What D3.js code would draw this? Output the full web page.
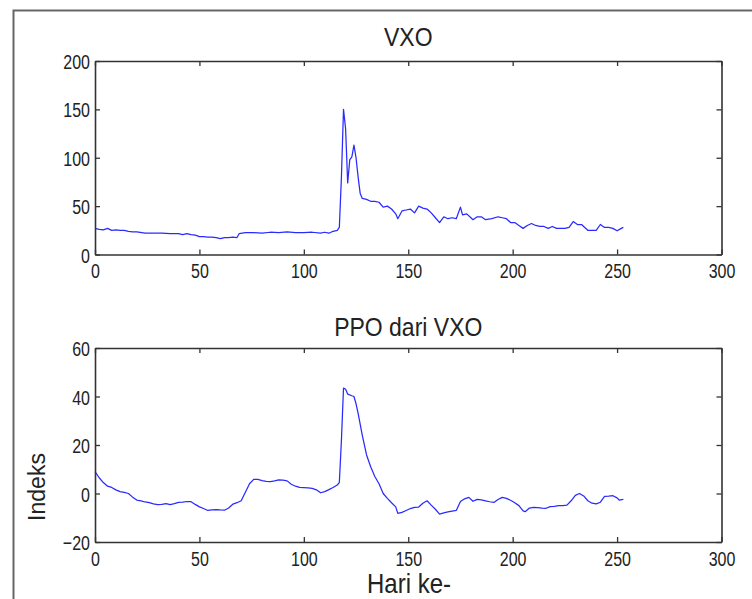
<!DOCTYPE html>
<html>
<head>
<meta charset="utf-8">
<script src="https://cdn.jsdelivr.net/npm/d3@7"></script>
<style>
  html, body { margin: 0; padding: 0; background: #fff; }
  svg { display: block; }
  text { font-family: "Liberation Sans", Arial, sans-serif; fill: #222; }
</style>
</head>
<body>
<svg id="chart" width="752" height="599"></svg>
<script>
// ---- data ----
const vxoDays = [0,2,4,6,8,10,12,14,16,18,20,24,28,32,36,40,42,44,46,48,50,52,54,56,58,60,62,64,66,68,69,72,76,80,84,88,92,96,100,104,108,110,112,114,116,117,118,119,120,121,122,123,124,125,126,127,128,130,132,134,136,138,140,142,144,145,147,149,151,153,155,157,159,161,163,165,167,169,171,173,175,176,178,180,181,183,185,187,190,193,195,197,199,201,203,205,207,209,211,213,215,217,219,221,223,225,227,229,231,233,234,236,238,240,242,244,246,248,250,252,253];
const vxoValues = [27,26,25.5,27,25,25.5,25,25,24,23.5,23.5,22,22,22,21.5,21.5,20.5,21.5,20.5,20,18.5,18.5,18,18,17.5,16.5,17.5,17.5,18,17.5,21.5,22.5,22.5,22,23,22.5,23.5,22.5,22.5,23,22,23,22,24,25,28,80,150,130,74,98,101,113,100,80,63,58,57,55,55,54,49,50,47,42,37,45,46,47,43,50,48,47,43,38,33,39,37,38,37,49,41,42,38,36,39,39,36,37,39,38,37,33,33,30,27,30,32,30,29,29,27,29,27,27,27,28,34,31,31,29,25,25,25,31,28,28,27,24.5,27,28];

const ppoDays = [0,2,4,6,8,10,12,14,16,18,20,22,24,26,28,30,32,34,36,38,40,42,44,46,48,50,52,54,56,58,60,62,64,66,68,70,72,74,76,78,80,82,84,86,88,90,92,94,96,98,100,102,104,106,108,110,112,114,116,117,118,119,120,121,123,124,125,126,128,130,132,134,136,138,140,142,144,145,147,149,151,153,155,157,159,161,163,165,167,169,171,173,175,177,179,181,183,185,187,189,191,193,195,197,199,201,203,205,206,208,210,212,214,216,218,220,222,224,226,228,230,232,234,236,238,240,242,244,246,248,250,251,253];
const ppoValues = [9,6.5,4.5,3,2.5,1.5,0.8,0.5,0,-1.5,-2.7,-3,-3.5,-3.8,-4.3,-4.6,-4.5,-4.2,-4.6,-4.2,-3.7,-3.6,-3.3,-3.4,-4.5,-5.5,-6.2,-7,-6.8,-6.6,-6.8,-6.9,-6,-4.4,-3.8,-3,0.5,4,5.8,5.8,5.3,5,4.9,5.2,5.6,5.5,5.2,3.8,3,2.5,2.4,2.3,2.1,1.5,0.3,0.8,1.6,2.5,3.5,4.5,22,43.5,43,41,40.3,40,37,33,24,16,11,7,4,0,-2,-3.8,-5.5,-8.2,-7.8,-7,-6.2,-5.7,-5.6,-4,-3,-4.8,-6.5,-8.5,-8,-7.6,-7.3,-7,-3.3,-2.2,-1.6,-3.2,-2.4,-2.6,-3,-3.4,-3.7,-2.5,-1.6,-2,-2.8,-3.8,-5,-7.2,-7.5,-6,-5.7,-5.8,-6,-6.1,-5.4,-5.3,-5,-5,-4.8,-3,-0.8,0,-1,-3,-4,-4.3,-3.6,-1.2,-1.1,-0.9,-1.8,-2.7,-2.4];

const xTicks = [0,50,100,150,200,250,300];
const vxoTicks = [0,50,100,150,200];
const ppoTicks = [-20,0,20,40,60];
const titles = ["VXO", "PPO dari VXO"];
const xLabel = "Hari ke-";
const yLabel = "Indeks";

// ---- drawing ----
const svg = d3.select("#chart");
const LINE = "#2a2aff";
const AX = "#333";
const SY = 1.3; // vertical stretch of the text in the reference

// outer frame
svg.append("path").attr("d", "M13.5,599 L13.5,10.5 L752,10.5")
  .attr("fill", "none").attr("stroke", "#666").attr("stroke-width", 2);

const left = 95, right = 721.5;
const panels = [
  { top: 61, bottom: 254.5, domain: [0, 200], ticks: vxoTicks, days: vxoDays, vals: vxoValues, title: titles[0], titleY: 46 },
  { top: 348, bottom: 542, domain: [-20, 60], ticks: ppoTicks, days: ppoDays, vals: ppoValues, title: titles[1], titleY: 336 }
];

panels.forEach((p, pi) => {
  const x = d3.scaleLinear().domain([0, 300]).range([left, right]);
  const y = d3.scaleLinear().domain(p.domain).range([p.bottom, p.top]);
  const g = svg.append("g");

  // data line
  const data = p.days.map((d, i) => [d, p.vals[i]]);
  g.append("path").datum(data)
    .attr("fill", "none").attr("stroke", LINE).attr("stroke-width", 1.25)
    .attr("stroke-linejoin", "round")
    .attr("d", d3.line().x(d => x(d[0])).y(d => y(d[1])));

  // axes (inward ticks on all sides)
  const bottomAx = g.append("g").attr("transform", `translate(0,${p.bottom})`)
    .call(d3.axisBottom(x).tickValues(xTicks).tickSizeInner(-5).tickSizeOuter(0));
  const topAx = g.append("g").attr("transform", `translate(0,${p.top})`)
    .call(d3.axisTop(x).tickValues(xTicks).tickSizeInner(-5).tickSizeOuter(0).tickFormat(""));
  const leftAx = g.append("g").attr("transform", `translate(${left},0)`)
    .call(d3.axisLeft(y).tickValues(p.ticks).tickSizeInner(-5).tickSizeOuter(0));
  const rightAx = g.append("g").attr("transform", `translate(${right},0)`)
    .call(d3.axisRight(y).tickValues(p.ticks).tickSizeInner(-5).tickSizeOuter(0).tickFormat(""));

  [bottomAx, topAx, leftAx, rightAx].forEach(a => {
    a.select(".domain").attr("stroke", AX).attr("stroke-width", 1.6);
    a.selectAll(".tick line").attr("stroke", AX).attr("stroke-width", 1.3);
  });

  bottomAx.selectAll(".tick text")
    .attr("font-family", "Liberation Sans, Arial, sans-serif")
    .attr("font-size", 16).attr("fill", "#222")
    .attr("dy", 0).attr("y", 24 / SY)
    .attr("transform", `scale(1,${SY})`);
  leftAx.selectAll(".tick text")
    .attr("font-family", "Liberation Sans, Arial, sans-serif")
    .attr("font-size", 16).attr("fill", "#222")
    .attr("dy", 0).attr("x", -5).attr("y", 7.5 / SY)
    .attr("transform", `scale(1,${SY})`);

  // title
  svg.append("text")
    .attr("text-anchor", "middle")
    .attr("font-size", 23)
    .attr("transform", `translate(${(left + right) / 2},${p.titleY}) scale(1,1.15)`)
    .text(p.title);
});

// axis labels
svg.append("text")
  .attr("text-anchor", "middle").attr("font-size", 24)
  .attr("transform", `translate(409,593) scale(1,1.12)`)
  .text(xLabel);
svg.append("text")
  .attr("text-anchor", "middle").attr("font-size", 23)
  .attr("transform", `translate(45,487) rotate(-90)`)
  .text(yLabel);
</script>
</body>
</html>
